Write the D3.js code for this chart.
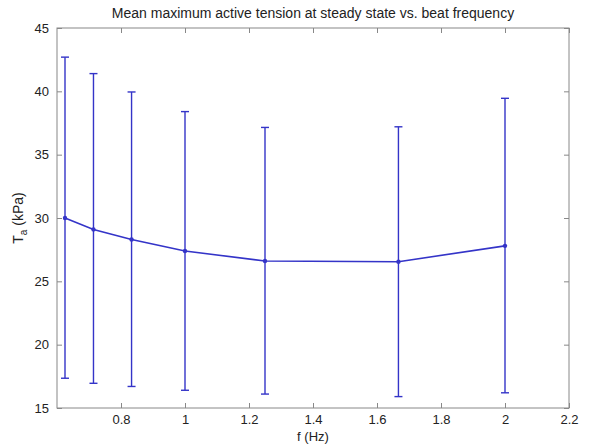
<!DOCTYPE html>
<html>
<head>
<meta charset="utf-8">
<script src="https://cdn.jsdelivr.net/npm/d3@7"></script>
<style>
  body { margin: 0; background: #fff; }
  svg text { font-family: "Liberation Sans", Arial, sans-serif; fill: #222; }
  .axis path, .axis line { stroke: #888; }
</style>
</head>
<body>
<div class="chart"></div>
<script>
// frequencies (Hz)
const freqs = [0.625, 0.714, 0.833, 1.0, 1.25, 1.667, 2.0];
// mean Ta (kPa)
const means = [30.0, 29.1, 28.3, 27.4, 26.6, 26.55, 27.8];
// error bar ends
const upper = [42.7, 41.4, 39.95, 38.4, 37.15, 37.2, 39.45];
const lower = [17.35, 16.95, 16.7, 16.4, 16.1, 15.9, 16.2];

const xTicks = [0.8, 1, 1.2, 1.4, 1.6, 1.8, 2, 2.2];
const yTicks = [15, 20, 25, 30, 35, 40, 45];

const data = freqs.map((f, i) => ({f: f, m: means[i], hi: upper[i], lo: lower[i]}));

const W = 592, H = 446;
const margin = {top: 28, right: 23, bottom: 38, left: 57};
const width = W - margin.left - margin.right;
const height = H - margin.top - margin.bottom;
const blue = '#3434c8';

const svg = d3.select('.chart').append('svg')
    .attr('width', W).attr('height', H);
const g = svg.append('g')
    .attr('transform', `translate(${margin.left},${margin.top})`);

const x = d3.scaleLinear().domain([0.6, 2.2]).range([0, width]);
const y = d3.scaleLinear().domain([15, 45]).range([height, 0]);

// box
g.append('rect')
    .attr('width', width).attr('height', height)
    .attr('fill', 'none').attr('stroke', '#888');

// axes, ticks pointing inward like matlab
const fmt = d => d3.format('~g')(d);
g.append('g').attr('class', 'axis')
    .attr('transform', `translate(0,${height})`)
    .call(d3.axisBottom(x).tickValues(xTicks).tickFormat(fmt).tickSizeInner(-5).tickSizeOuter(0).tickPadding(7))
    .call(a => a.select('.domain').remove())
    .selectAll('text').style('font-size', '13px');
g.append('g').attr('class', 'axis')
    .call(d3.axisTop(x).tickValues(xTicks).tickFormat('').tickSizeInner(-5).tickSizeOuter(0))
    .call(a => a.select('.domain').remove());
g.append('g').attr('class', 'axis')
    .call(d3.axisLeft(y).tickValues(yTicks).tickFormat(fmt).tickSizeInner(-5).tickSizeOuter(0).tickPadding(8))
    .call(a => a.select('.domain').remove())
    .selectAll('text').style('font-size', '13px');
g.append('g').attr('class', 'axis')
    .attr('transform', `translate(${width},0)`)
    .call(d3.axisRight(y).tickValues(yTicks).tickFormat('').tickSizeInner(-5).tickSizeOuter(0))
    .call(a => a.select('.domain').remove());

// error bars
const eb = g.selectAll('.eb').data(data).enter().append('g').attr('class', 'eb')
    .attr('stroke', blue).attr('stroke-width', 1.4);
eb.append('line')
    .attr('x1', d => x(d.f)).attr('x2', d => x(d.f))
    .attr('y1', d => y(d.hi)).attr('y2', d => y(d.lo));
eb.append('line')
    .attr('x1', d => x(d.f) - 4).attr('x2', d => x(d.f) + 4)
    .attr('y1', d => y(d.hi)).attr('y2', d => y(d.hi));
eb.append('line')
    .attr('x1', d => x(d.f) - 4).attr('x2', d => x(d.f) + 4)
    .attr('y1', d => y(d.lo)).attr('y2', d => y(d.lo));

// mean line
g.append('path').datum(data)
    .attr('fill', 'none').attr('stroke', blue).attr('stroke-width', 1.6)
    .attr('d', d3.line().x(d => x(d.f)).y(d => y(d.m)));
g.selectAll('.pt').data(data).enter().append('circle')
    .attr('class', 'pt')
    .attr('cx', d => x(d.f)).attr('cy', d => y(d.m)).attr('r', 2.2)
    .attr('fill', blue);

// title and labels
svg.append('text')
    .attr('x', margin.left + width / 2).attr('y', 18)
    .attr('text-anchor', 'middle').style('font-size', '14px')
    .text('Mean maximum active tension at steady state vs. beat frequency');
svg.append('text')
    .attr('x', margin.left + width / 2).attr('y', 441)
    .attr('text-anchor', 'middle').style('font-size', '13px')
    .text('f (Hz)');
const yl = svg.append('text')
    .attr('transform', `translate(23,${margin.top + height / 2}) rotate(-90)`)
    .attr('text-anchor', 'middle').style('font-size', '14px');
yl.append('tspan').text('T');
yl.append('tspan').attr('dy', 4).style('font-size', '10px').text('a');
yl.append('tspan').attr('dy', -4).text(' (kPa)');
</script>
</body>
</html>
